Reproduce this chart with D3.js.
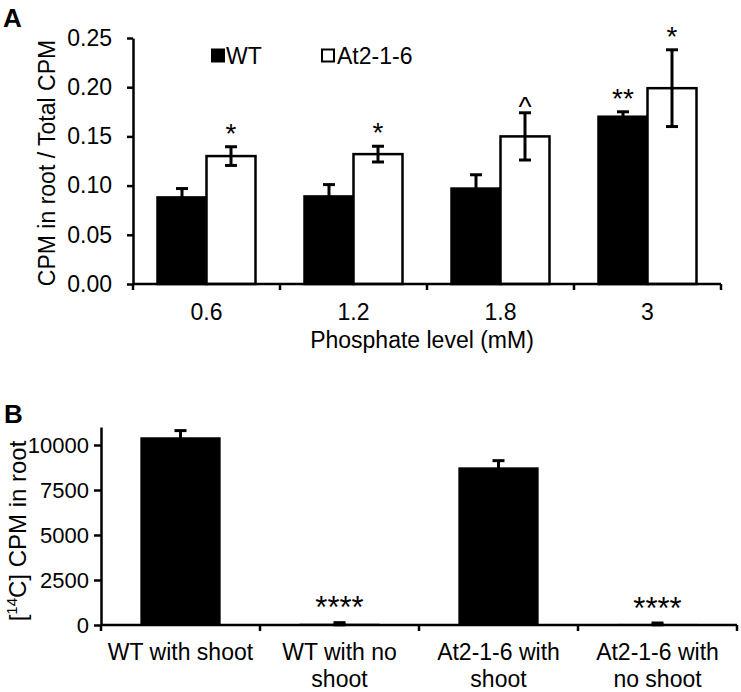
<!DOCTYPE html>
<html>
<head>
<meta charset="utf-8">
<script src="https://cdn.jsdelivr.net/npm/d3@7"></script>
<style>
  html, body { margin: 0; padding: 0; background: #fff; }
  svg { display: block; }
  text { font-family: "Liberation Sans", Arial, sans-serif; fill: #000; }
</style>
</head>
<body>
<svg id="chart" width="741" height="692"></svg>
<script>
// ---------- Panel A data ----------
const phosphateLevels = ["0.6", "1.2", "1.8", "3"];
const seriesNames = ["WT", "At2-1-6"];
const wtRatio = [0.088, 0.089, 0.097, 0.170];
const wtRatioErr = [0.009, 0.012, 0.014, 0.005];
const at2Ratio = [0.130, 0.132, 0.150, 0.199];
const at2RatioErr = [0.0095, 0.008, 0.024, 0.039];
const wtSig = ["", "", "", "**"];
const at2Sig = ["*", "*", "^", "*"];
const yTicksA = [0, 0.05, 0.10, 0.15, 0.20, 0.25];

// ---------- Panel B data ----------
const treatments = ["WT with shoot", "WT with no shoot", "At2-1-6 with shoot", "At2-1-6 with no shoot"];
const treatmentLines = [["WT with shoot"], ["WT with no", "shoot"], ["At2-1-6 with", "shoot"], ["At2-1-6 with", "no shoot"]];
const cpmRoot = [10430, 70, 8760, 60];
const cpmRootErr = [370, 60, 370, 50];
const sigB = ["", "****", "", "****"];
const yTicksB = [0, 2500, 5000, 7500, 10000];

const svg = d3.select("#chart");
const FS = 23;
const FONT = "Liberation Sans, Arial, sans-serif";

function errorBar(g, cx, yTop, yBot, capW) {
  g.append("line").attr("x1", cx).attr("x2", cx).attr("y1", yTop).attr("y2", yBot)
    .attr("stroke", "#000").attr("stroke-width", 3);
  [yTop, yBot].forEach(yy => {
    g.append("line").attr("x1", cx - capW / 2).attr("x2", cx + capW / 2).attr("y1", yy).attr("y2", yy)
      .attr("stroke", "#000").attr("stroke-width", 3);
  });
}

// ================= Panel A =================
{
  const x = d3.scaleBand().domain(phosphateLevels).range([133, 721]);
  const y = d3.scaleLinear().domain([0, 0.25]).range([284, 38]);
  const bw = x.bandwidth() / 3;
  const g = svg.append("g");

  svg.append("text").attr("x", 3).attr("y", 27).attr("font-size", 26).attr("font-weight", "bold").text("A");

  const rows = phosphateLevels.map((c, i) => ({ c, i }));
  g.selectAll("rect.wt").data(rows).join("rect")
    .attr("x", d => x(d.c) + bw / 2).attr("width", bw)
    .attr("y", d => y(wtRatio[d.i])).attr("height", d => y(0) - y(wtRatio[d.i]))
    .attr("fill", "#000").attr("stroke", "#000").attr("stroke-width", 2.5);
  g.selectAll("rect.at").data(rows).join("rect")
    .attr("x", d => x(d.c) + bw * 1.5).attr("width", bw)
    .attr("y", d => y(at2Ratio[d.i])).attr("height", d => y(0) - y(at2Ratio[d.i]))
    .attr("fill", "#fff").attr("stroke", "#000").attr("stroke-width", 2.5);

  const markOffset = s => (s === "^" ? 3 : -4);
  rows.forEach(d => {
    const cw = x(d.c) + bw;
    const ca = x(d.c) + bw * 2;
    errorBar(g, cw, y(wtRatio[d.i] + wtRatioErr[d.i]), y(wtRatio[d.i] - wtRatioErr[d.i]), 12);
    errorBar(g, ca, y(at2Ratio[d.i] + at2RatioErr[d.i]), y(at2Ratio[d.i] - at2RatioErr[d.i]), 12);
    if (wtSig[d.i]) g.append("text").attr("x", cw).attr("y", y(wtRatio[d.i] + wtRatioErr[d.i]) + markOffset(wtSig[d.i]))
      .attr("text-anchor", "middle").attr("font-size", 28).text(wtSig[d.i]);
    if (at2Sig[d.i]) g.append("text").attr("x", ca).attr("y", y(at2Ratio[d.i] + at2RatioErr[d.i]) + markOffset(at2Sig[d.i]))
      .attr("text-anchor", "middle").attr("font-size", 28).text(at2Sig[d.i]);
  });

  const ya = g.append("g").attr("transform", "translate(133,0)")
    .call(d3.axisLeft(y).tickValues(yTicksA).tickFormat(d3.format(".2f")).tickSize(6).tickSizeOuter(0).tickPadding(15));
  ya.selectAll("path, line").attr("stroke", "#000").attr("stroke-width", 2.5);
  ya.selectAll("text").attr("font-size", FS).attr("font-family", FONT).attr("fill", "#000");

  const xa = g.append("g");
  const [x0, x1] = x.range();
  xa.append("line").attr("x1", x0).attr("x2", x1).attr("y1", y(0)).attr("y2", y(0)).attr("stroke", "#000").attr("stroke-width", 2.5);
  const bounds = phosphateLevels.map(c => x(c)).concat([x1]);
  xa.selectAll("line.t").data(bounds).join("line").attr("class", "t")
    .attr("x1", d => d).attr("x2", d => d).attr("y1", y(0)).attr("y2", y(0) + 6)
    .attr("stroke", "#000").attr("stroke-width", 2.5);
  xa.selectAll("text.lab").data(phosphateLevels).join("text").attr("class", "lab")
    .attr("x", d => x(d) + x.bandwidth() / 2).attr("y", 320).attr("text-anchor", "middle")
    .attr("font-size", FS).text(d => d);
  g.append("text").attr("x", (x0 + x1) / 2 - 5).attr("y", 348).attr("text-anchor", "middle")
    .attr("font-size", FS).text("Phosphate level (mM)");

  g.append("text").attr("transform", `translate(55,${(y(0) + y(0.25)) / 2 + 2}) rotate(-90)`)
    .attr("text-anchor", "middle").attr("font-size", FS).text("CPM in root / Total CPM");

  const lg = g.append("g");
  lg.append("rect").attr("x", 211).attr("y", 48.5).attr("width", 14).attr("height", 14).attr("fill", "#000");
  lg.append("text").attr("x", 226).attr("y", 63.5).attr("font-size", FS).text(seriesNames[0]);
  lg.append("rect").attr("x", 322).attr("y", 49.5).attr("width", 12).attr("height", 12).attr("fill", "#fff").attr("stroke", "#000").attr("stroke-width", 2);
  lg.append("text").attr("x", 337).attr("y", 63.5).attr("font-size", FS).text(seriesNames[1]);
}

// ================= Panel B =================
{
  const x = d3.scaleBand().domain(treatments).range([101, 737]);
  const y = d3.scaleLinear().domain([0, 11000]).range([625, 427]);
  const bw = x.bandwidth() * 0.505;
  const g = svg.append("g");

  svg.append("text").attr("x", 4).attr("y", 423).attr("font-size", 26).attr("font-weight", "bold").text("B");

  g.selectAll("rect.b").data(treatments).join("rect")
    .attr("x", d => x(d) + (x.bandwidth() - bw) / 2).attr("width", bw)
    .attr("y", (d, i) => y(cpmRoot[i])).attr("height", (d, i) => y(0) - y(cpmRoot[i]))
    .attr("fill", "#000");

  treatments.forEach((t, i) => {
    const cx = x(t) + x.bandwidth() / 2;
    errorBar(g, cx, y(cpmRoot[i] + cpmRootErr[i]), y(cpmRoot[i] - cpmRootErr[i]), 12);
    if (sigB[i]) g.append("text").attr("x", cx).attr("y", y(cpmRoot[i] + cpmRootErr[i]) - 4.5)
      .attr("text-anchor", "middle").attr("font-size", 31).text(sigB[i]);
  });

  const ya = g.append("g").attr("transform", "translate(101,0)")
    .call(d3.axisLeft(y).tickValues(yTicksB).tickFormat(d3.format("d")).tickSize(7).tickSizeOuter(0).tickPadding(5));
  ya.selectAll("path, line").attr("stroke", "#000").attr("stroke-width", 2.5);
  ya.selectAll("text").attr("font-size", 22).attr("font-family", FONT).attr("fill", "#000");

  const [x0, x1] = x.range();
  g.append("line").attr("x1", x0).attr("x2", x1).attr("y1", y(0)).attr("y2", y(0)).attr("stroke", "#000").attr("stroke-width", 2.5);
  const bounds = treatments.map(c => x(c)).concat([x1]);
  g.selectAll("line.t").data(bounds).join("line").attr("class", "t")
    .attr("x1", d => d).attr("x2", d => d).attr("y1", y(0)).attr("y2", y(0) + 6)
    .attr("stroke", "#000").attr("stroke-width", 2.5);
  treatments.forEach((t, i) => {
    const txt = g.append("text").attr("x", x(t) + x.bandwidth() / 2).attr("y", 660)
      .attr("text-anchor", "middle").attr("font-size", FS);
    treatmentLines[i].forEach((ln, j) => {
      txt.append("tspan").attr("x", x(t) + x.bandwidth() / 2).attr("dy", j === 0 ? 0 : 27).text(ln);
    });
  });

  const yl = g.append("text").attr("transform", `translate(26,531) rotate(-90)`)
    .attr("text-anchor", "middle").attr("font-size", 24);
  yl.append("tspan").text("[");
  yl.append("tspan").attr("font-size", 15).attr("dy", -9).text("14");
  yl.append("tspan").attr("dy", 9).text("C] CPM in root");
}
</script>
</body>
</html>
